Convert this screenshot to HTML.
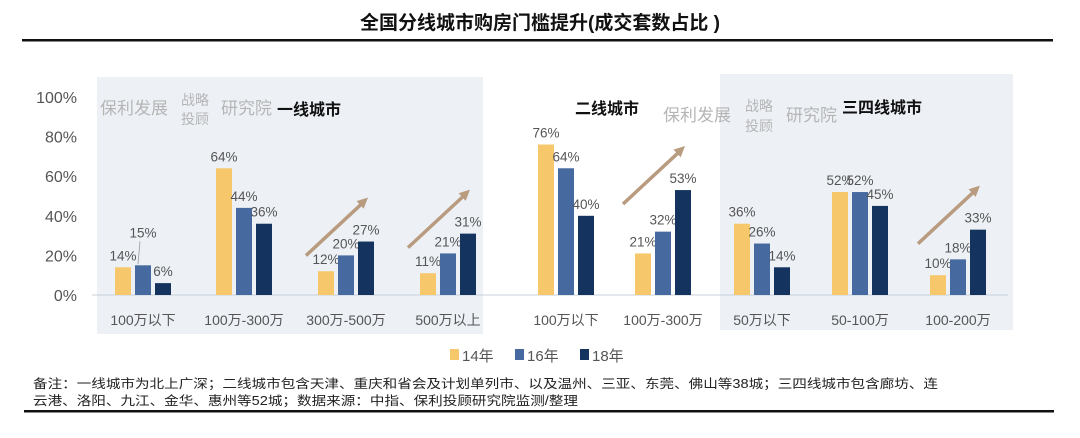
<!DOCTYPE html>
<html><head><meta charset="utf-8">
<style>
body{margin:0;width:1080px;height:433px;background:#fff;overflow:hidden;font-family:"Liberation Sans","Noto Sans CJK SC",sans-serif;}
</style></head>
<body>
<svg width="1080" height="433" xmlns="http://www.w3.org/2000/svg" id="svg" font-family="Liberation Sans, Noto Sans CJK SC, sans-serif">
<text x="540" y="29" text-anchor="middle" font-size="19" font-weight="bold" fill="#111">全国分线城市购房门槛提升(成交套数占比 )</text>
<rect x="22" y="39" width="1031" height="2.5" fill="#111"/>
<rect x="97" y="77" width="386" height="257" fill="#edf1f6"/>
<rect x="720" y="74" width="293" height="256" fill="#edf1f6"/>
<g id="axis"></g>
<g id="bars"></g>
<g font-size="17" fill="#b5b5b5">
<text x="100" y="114">保利发展</text><text x="181" y="105" font-size="14">战略</text><text x="181" y="124" font-size="14">投顾</text><text x="221" y="114">研究院</text>
<text x="663" y="121">保利发展</text><text x="745" y="111" font-size="14">战略</text><text x="745" y="131" font-size="14">投顾</text><text x="786" y="121">研究院</text>
</g>
<text x="277" y="115" font-size="16" font-weight="bold" fill="#111">一线城市</text>
<text x="575" y="114" font-size="16" font-weight="bold" fill="#111">二线城市</text>
<text x="842" y="113" font-size="16" font-weight="bold" fill="#111">三四线城市</text>
<g id="legend" font-size="15" fill="#555"></g>
<text x="33" y="388" font-size="12.5" fill="#222" textLength="905" lengthAdjust="spacingAndGlyphs">备注：一线城市为北上广深；二线城市包含天津、重庆和省会及计划单列市、以及温州、三亚、东莞、佛山等38城；三四线城市包含廊坊、连</text>
<text x="33" y="405" font-size="12.5" fill="#222" textLength="545" lengthAdjust="spacingAndGlyphs">云港、洛阳、九江、金华、惠州等52城；数据来源：中指、保利投顾研究院监测/整理</text>
<rect x="24" y="410" width="1030" height="2.5" fill="#111"/>
</svg>
<script>
const categories=["100万以下","100万-300万","300万-500万","500万以上","100万以下","100万-300万","50万以下","50-100万","100-200万"];
const s14=[14,64,12,11,76,21,36,52,10];
const s16=[15,44,20,21,64,32,26,52,18];
const s18=[6,36,27,31,40,53,14,45,33];
const seriesNames=["14年","16年","18年"];
const yTicks=[0,20,40,60,80,100];
const arrowGroups=[2,3,5,8];
const centers=[143,244,346,448,566,663,762,860,958];
const colors=["#f6c86b","#46699f","#14345f"];
const NS="http://www.w3.org/2000/svg";
const y=v=>295-v*1.98;
function mk(t,a,p){const e=document.createElementNS(NS,t);for(const k in a)e.setAttribute(k,a[k]);p.appendChild(e);return e;}
const ax=document.getElementById('axis');
yTicks.forEach(t=>{const e=mk('text',{x:77,y:y(t)+6,'text-anchor':'end','font-size':16,fill:'#555'},ax);e.textContent=t+'%';

});
const base=mk('line',{x1:92,x2:1008,y1:295,y2:295,stroke:'#c8d0da','stroke-width':1},ax);


const bg=document.getElementById('bars');
const series=[s14,s16,s18];
categories.forEach((c,i)=>{
 const cx=centers[i];
 series.forEach((s,j)=>{
  const x=cx-28+j*20;
  const r=mk('rect',{x:x,y:y(s[i]),width:16,height:295-y(s[i]),fill:colors[j]},bg);
  
  
  let ty=y(s[i])-7;
  if(i===0&&j===1){ty-=21;
   const ln=mk('line',{x1:x+5,y1:ty+4,x2:x+3,y2:y(s[i])-1,stroke:'#999','stroke-width':0.8},bg);
   
   }
  const t=mk('text',{x:x+8,y:ty,'text-anchor':'middle','font-size':13.5,fill:'#555'},bg);
  t.textContent=s[i]+'%';
  
  
 });
 const l=mk('text',{x:cx,y:325,'text-anchor':'middle','font-size':14,fill:'#555'},bg);
 l.textContent=c;
 
 
});
arrowGroups.forEach(i=>{
 const cx=centers[i];
 const x1=cx-40,y1=y(s18[i])+14,x2=cx+22,y2=y(s18[i])-44;
 const g=mk('g',{},bg);
 
 
 mk('line',{x1:x1,y1:y1,x2:x2-6,y2:y2+6,stroke:'#b99b80','stroke-width':3.5},g);
 const a=Math.atan2(y2-y1,x2-x1);
 const p=(d,o)=>[x2-d*Math.cos(a+o),y2-d*Math.sin(a+o)];
 const [ax1,ay1]=p(12,0.45),[ax2,ay2]=p(12,-0.45);
 mk('polygon',{points:`${x2},${y2} ${ax1},${ay1} ${ax2},${ay2}`,fill:'#b99b80'},g);
});
const lg=document.getElementById('legend');
seriesNames.forEach((n,j)=>{
 const x=450+j*65;
 const r=mk('rect',{x:x,y:349,width:9,height:11,fill:colors[j]},lg);
 
 
 const t=mk('text',{x:x+12,y:361},lg);t.textContent=n;
 
 
});
</script>
</body></html>
